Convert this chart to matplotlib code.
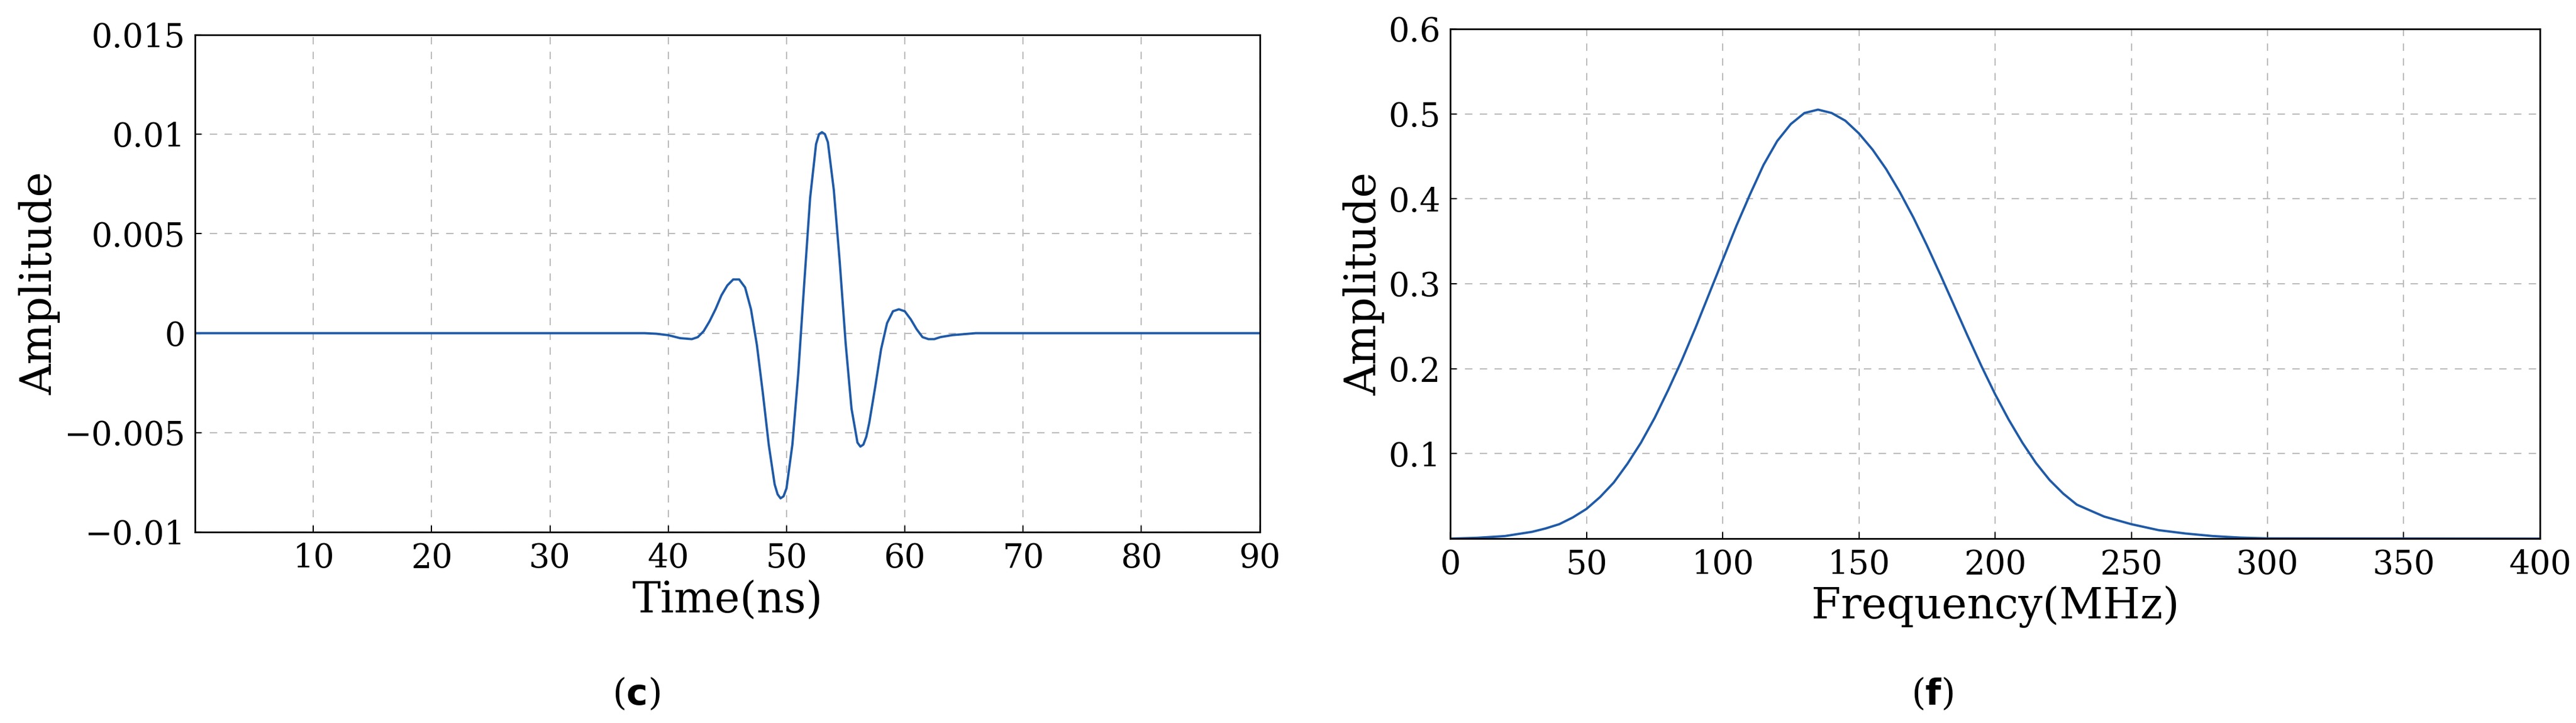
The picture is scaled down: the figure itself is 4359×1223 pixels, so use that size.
import matplotlib
matplotlib.use("Agg")
import matplotlib.pyplot as plt

time_ns = [0, 38, 39, 40, 41, 42, 42.5, 43, 43.5, 44, 44.5, 45, 45.5, 46, 46.5, 47, 47.5, 48, 48.5, 49, 49.25, 49.5, 49.75, 50,
           50.5, 51, 51.5, 52, 52.5, 52.75, 53, 53.25, 53.5, 54, 54.5, 55, 55.5, 56, 56.25, 56.5, 56.75, 57, 57.5, 58, 58.5, 59, 59.5, 60,
           60.5, 61, 61.5, 62, 62.5, 63, 64, 65, 66, 90]
amp_t = [0, 0, -0.00003, -0.0001, -0.00025, -0.0003, -0.0002, 0.0001, 0.0006, 0.0012, 0.0019, 0.0024, 0.0027, 0.0027,
         0.0023, 0.0012, -0.0006, -0.0030, -0.0056, -0.0076, -0.0081, -0.0083, -0.0082, -0.0078, -0.0056, -0.0020, 0.0025, 0.0068,
         0.0095, 0.0100, 0.0101, 0.0100, 0.0096, 0.0072, 0.0036, -0.0005, -0.0038, -0.0055, -0.0057, -0.0056, -0.0052, -0.0045, -0.0027, -0.0008,
         0.0005, 0.0011, 0.0012, 0.0011, 0.0007, 0.0002, -0.0002, -0.0003, -0.0003, -0.0002, -0.0001, -0.00005, 0, 0]

freq = [0, 10, 20, 30, 35, 40, 45, 50, 55, 60, 65, 70, 75, 80, 85, 90, 95, 100, 105, 110, 115, 120, 125, 130, 135, 140, 145, 150,
        155, 160, 165, 170, 175, 180, 185, 190, 195, 200, 205, 210, 215, 220, 225, 230, 240, 250, 260, 270, 280, 290, 300, 400]
amp_f = [0, 0.001, 0.003, 0.008, 0.012, 0.017, 0.025, 0.035, 0.049, 0.066, 0.088, 0.113, 0.142, 0.175, 0.21, 0.248, 0.288,
         0.328, 0.368, 0.405, 0.44, 0.468, 0.488, 0.501, 0.505, 0.501, 0.492, 0.477, 0.458, 0.435, 0.408, 0.378, 0.345, 0.31,
         0.274, 0.238, 0.203, 0.170, 0.140, 0.113, 0.089, 0.069, 0.053, 0.040, 0.026, 0.017, 0.010, 0.006, 0.003, 0.0012, 0.0003, 0]

xticks_t = [10, 20, 30, 40, 50, 60, 70, 80, 90]
yticks_t = [-0.01, -0.005, 0, 0.005, 0.01, 0.015]
ytick_labels_t = ["\u22120.01", "\u22120.005", "0", "0.005", "0.01", "0.015"]
xticks_f = [0, 50, 100, 150, 200, 250, 300, 350, 400]
yticks_f = [0.1, 0.2, 0.3, 0.4, 0.5, 0.6]

plt.rcParams['font.family'] = ['DejaVu Serif']
fig = plt.figure(figsize=(43.59, 12.23), dpi=100)
ax1 = fig.add_axes([0.0757, 0.264, 0.4133, 0.688])
ax2 = fig.add_axes([0.563, 0.255, 0.423, 0.705])
col = '#1f5aa6'

ax1.plot(time_ns, amp_t, color=col, lw=2.8)
ax1.set_xlim(0, 90); ax1.set_ylim(-0.01, 0.015)
ax1.set_xticks(xticks_t); ax1.set_yticks(yticks_t); ax1.set_yticklabels(ytick_labels_t)
ax1.set_xlabel("Time(ns)", fontsize=52, labelpad=6)
ax1.set_ylabel("Amplitude", fontsize=52)

ax2.plot(freq, amp_f, color=col, lw=2.8)
ax2.set_xlim(0, 400); ax2.set_ylim(0, 0.6)
ax2.set_xticks(xticks_f); ax2.set_yticks(yticks_f)
ax2.set_xlabel("Frequency(MHz)", fontsize=52, labelpad=6)
ax2.set_ylabel("Amplitude", fontsize=52)

for ax in (ax1, ax2):
    ax.grid(True, ls=(0, (6, 6)), color='#bbbbbb', lw=1.5)
    ax.tick_params(direction='in', labelsize=40, length=8, width=1.5, pad=12)
    for s in ax.spines.values():
        s.set_linewidth(2); s.set_color('black')

fig.text(0.247, 0.025, r"($\mathbf{c}$)", fontsize=44, ha='center')
fig.text(0.750, 0.025, r"($\mathbf{f}$)", fontsize=44, ha='center')
fig.savefig("out.png")
